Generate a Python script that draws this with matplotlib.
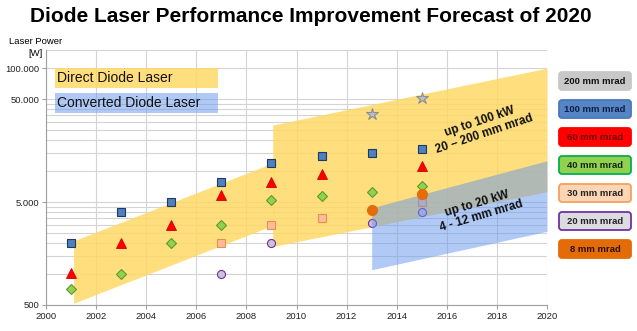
import matplotlib
matplotlib.use("Agg")
import matplotlib.pyplot as plt
from matplotlib.patches import Rectangle, FancyBboxPatch
from matplotlib.transforms import Affine2D

plt.rcParams['font.family'] = ['Liberation Sans', 'DejaVu Sans']

# marker series (year, laser power in W)
yrs_100 = [2001, 2003, 2005, 2007, 2009, 2011, 2013, 2015]
pw_100 = [2000, 4000, 5000, 7800, 12000, 14000, 15000, 16500]
yrs_60 = [2001, 2003, 2005, 2007, 2009, 2011, 2015]
pw_60 = [1020, 2000, 3000, 5800, 7800, 9400, 11100]
yrs_40 = [2001, 2003, 2005, 2007, 2009, 2011, 2013, 2015]
pw_40 = [720, 1000, 2000, 3000, 5200, 5700, 6200, 7100]
yrs_30 = [2007, 2009, 2011, 2015]
pw_30 = [2000, 3000, 3500, 5000]
yrs_20 = [2007, 2009, 2013, 2015]
pw_20 = [1000, 2000, 3150, 4000]
yrs_8 = [2013, 2015]
pw_8 = [4150, 6000]
yrs_200 = [2013, 2015]
pw_200 = [36000, 51000]

# forecast bands
band1_x = [2001.1, 2009.1]
band1_top = [2100, 12100]
band1_bot = [520, 3000]
band2_x = [2009.05, 2020]
band2_top = [28000, 100000]
band2_bot = [1850, 6300]
conv_x = [2013, 2020]
conv_top = [4400, 12600]
conv_bot = [1100, 2600]

legend_labels = ["200 mm mrad", "100 mm mrad", "60 mm mrad", "40 mm mrad",
                 "30 mm mrad", "20 mm mrad", "8 mm mrad"]

xticks = list(range(2000, 2021, 2))
yticks = [500, 5000, 50000, 100000]
ytick_labels = ["500", "5.000", "50.000", "100.000"]
minor_y = list(range(1000, 5000, 500)) + list(range(10000, 50000, 5000)) + [150000]

yellow = "#FFD966"
blue = "#6495ED"

fig = plt.figure(figsize=(6.37, 3.31), dpi=100)
ax = fig.add_axes([46 / 637, 1 - 305 / 331, 501 / 637, 255 / 331])
ax.set_yscale("log")
ax.set_xlim(2000, 2020)
ax.set_ylim(500, 150000)

ax.set_axisbelow(True)
ax.set_xticks(xticks)
ax.set_xticklabels([str(t) for t in xticks])
ax.set_yticks(yticks)
ax.set_yticklabels(ytick_labels)
ax.set_yticks(minor_y, minor=True)
ax.yaxis.set_minor_formatter(plt.NullFormatter())
ax.grid(True, which="both", color="#d4d4d4", lw=0.8, zorder=0)
ax.tick_params(axis="both", which="major", labelsize=6.8, length=3,
               color="#a0a0a0", pad=2, labelcolor="#222222")
ax.tick_params(axis="y", which="minor", length=0)
for s in ["top", "right"]:
    ax.spines[s].set_visible(False)
for s in ["left", "bottom"]:
    ax.spines[s].set_color("#a0a0a0")
    ax.spines[s].set_linewidth(0.8)

ax.fill_between(band1_x, band1_bot, band1_top, color=yellow, alpha=0.85, lw=0, zorder=1)
ax.fill_between(band2_x, band2_bot, band2_top, color=yellow, alpha=0.85, lw=0, zorder=1)

ax.plot(yrs_100, pw_100, "s", ms=5.2, mfc="#4F81BD", mec="#1F3864", mew=0.8, zorder=3)
ax.plot(yrs_60, pw_60, "^", ms=7.2, mfc="#FF0000", mec="#D00000", mew=0.6, zorder=3)
ax.plot(yrs_40, pw_40, "D", ms=5.6, mfc="#92D050", mec="#5E9A2E", mew=0.8, zorder=3)
ax.plot(yrs_30, pw_30, "s", ms=5.6, mfc="#FBBE98", mec="#F08C50", mew=0.8, zorder=3)
ax.plot(yrs_20, pw_20, "o", ms=5.8, mfc="#CCC0DA", mec="#7030A0", mew=0.8, zorder=3)
ax.plot(yrs_200, pw_200, "*", ms=9, mfc="#BFBFBF", mec="#8C8C96", mew=0.8, zorder=3)

ax.fill_between(conv_x, conv_bot, conv_top, color=blue, alpha=0.5, lw=0, zorder=4)

ax.plot(yrs_8, pw_8, "o", ms=7, mfc="#E46C0A", mec="#E46C0A", zorder=5)

ax.text(2017.4, 26400, "up to 100 kW\n20 \u2013 200 mm mrad", rotation=18.5,
        ha="center", va="center", fontsize=8.5, fontweight="bold",
        color="#111111", linespacing=1.1, zorder=6)
ax.text(2017.3, 4230, "up to 20 kW\n4 - 12 mm mrad", rotation=16.5,
        ha="center", va="center", fontsize=8.5, fontweight="bold",
        color="#111111", linespacing=1.1, zorder=6)

# pixel coordinates (from top-left) for the free-standing labels and boxes
px = Affine2D().scale(1 / 637, -1 / 331).translate(0, 1) + fig.transFigure

fig.text(311, 17, "Diode Laser Performance Improvement Forecast of 2020",
         transform=px, ha="center", va="center", fontsize=15, fontweight="bold")
fig.text(36, 42, "Laser Power", transform=px, ha="center", va="center", fontsize=6.8)
fig.text(43, 53, "[W]", transform=px, ha="right", va="center", fontsize=6.8)

fig.add_artist(Rectangle((55, 68), 163, 20, transform=px, fc=yellow, alpha=0.85, lw=0))
fig.add_artist(Rectangle((55, 93), 163, 20, transform=px, fc=blue, alpha=0.5, lw=0))
fig.text(57, 78, "Direct Diode Laser", transform=px, ha="left", va="center",
         fontsize=10, color="#111111")
fig.text(57, 103, "Converted Diode Laser", transform=px, ha="left", va="center",
         fontsize=10, color="#111111")

box_fc = ["#C8C8C8", "#5585C5", "#FF0000", "#92D050", "#FCD5B5", "#DCDCE0", "#E36C09"]
box_ec = ["#C8C8C8", "#4A78B8", "#FF0000", "#00B050", "#F4A060", "#7030A0", "#E36C09"]
box_tc = ["#111111", "#0F1E46", "#700000", "#102810", "#222222", "#222222", "#301000"]
for i, lab in enumerate(legend_labels):
    y0 = 72 + i * 28
    fig.add_artist(FancyBboxPatch((559, y0), 72, 18, transform=px,
                                  boxstyle="round,pad=0,rounding_size=3",
                                  fc=box_fc[i], ec=box_ec[i], lw=1.3))
    fig.text(595, y0 + 9.5, lab, transform=px, ha="center", va="center",
             fontsize=6.8, fontweight="bold", color=box_tc[i])

fig.savefig("out.png", dpi=100)
